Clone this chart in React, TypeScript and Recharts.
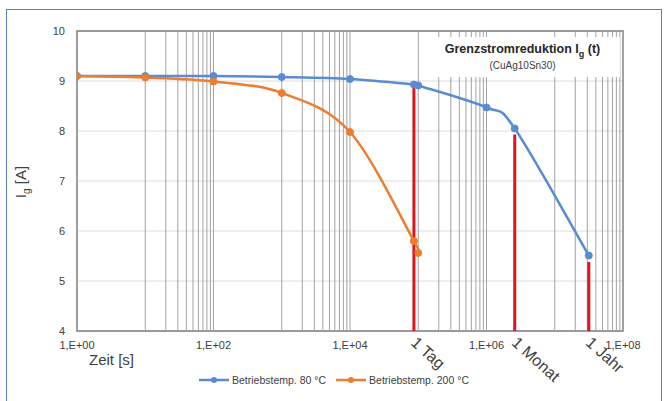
import { CartesianGrid, Line, LineChart, ReferenceArea, ReferenceLine, XAxis, YAxis } from "recharts";

const xTicks = [1, 1e2, 1e4, 1e6, 1e8];
const yTicks = [4, 5, 6, 7, 8, 9, 10];

// Excel only puts the minor grid into every second decade here
const gridDecades = [1e1, 1e3, 1e5, 1e7];
const gridSteps = [1, 2, 3, 4, 5, 6, 7, 8, 9, 10];

const time80 = [1, 10, 100, 1e3, 1e4, 86400, 1e5, 1e6, 2.592e6, 3.1536e7];
const current80 = [9.1, 9.1, 9.1, 9.08, 9.04, 8.93, 8.91, 8.47, 8.05, 5.51];
const time200 = [1, 10, 100, 1e3, 1e4, 86400, 1e5];
const current200 = [9.1, 9.07, 8.99, 8.76, 7.98, 5.8, 5.56];

const markTimes = [86400, 2.592e6, 3.1536e7];
const markTops = [8.9, 7.93, 5.38];
const markNames = ["1 Tag", "1 Monat", "1 Jahr"];

const seriesNames = ["Betriebstemp. 80 °C", "Betriebstemp. 200 °C"];
const BLUE = "#5b8cd2";
const ORANGE = "#ed7d31";
const FONT = "'Liberation Sans', Arial, sans-serif";

const data80 = time80.map((t, i) => ({ t, v: current80[i] }));
const data200 = time200.map((t, i) => ({ t, v: current200[i] }));
const gridXs = gridDecades.flatMap((d) => gridSteps.map((k) => k * d));

const fmtExp = (v: number) => "1,E+" + String(Math.round(Math.log10(v))).padStart(2, "0");

// Excel's "smoothed line": bezier segments with tangents (P[i+1] - P[i-1]) / 6
const excelSmooth = (context: any) => {
  let pts: number[][] = [];
  return {
    areaStart() {},
    areaEnd() {},
    lineStart() {
      pts = [];
    },
    point(x: number, y: number) {
      pts.push([+x, +y]);
    },
    lineEnd() {
      if (!pts.length) return;
      context.moveTo(pts[0][0], pts[0][1]);
      for (let i = 0; i < pts.length - 1; i++) {
        const p0 = pts[Math.max(i - 1, 0)];
        const p1 = pts[i];
        const p2 = pts[i + 1];
        const p3 = pts[Math.min(i + 2, pts.length - 1)];
        context.bezierCurveTo(
          p1[0] + (p2[0] - p0[0]) / 6,
          p1[1] + (p2[1] - p0[1]) / 6,
          p2[0] - (p3[0] - p1[0]) / 6,
          p2[1] - (p3[1] - p1[1]) / 6,
          p2[0],
          p2[1],
        );
      }
    },
  };
};

function RotLabel({ viewBox, text }: any) {
  const x = viewBox.x - 4;
  const y = viewBox.y + viewBox.height + 13;
  return (
    <text x={x} y={y} transform={`rotate(42 ${x} ${y})`} fontSize={16} fill="#404040" fontFamily={FONT}>
      {text}
    </text>
  );
}

function XTitle({ viewBox }: any) {
  return (
    <text x={viewBox.x + 12} y={viewBox.y + 34} fontSize={15} fill="#404040" fontFamily={FONT}>
      Zeit [s]
    </text>
  );
}

function YTitle() {
  return (
    <text transform="rotate(-90 26 182)" x={26} y={182} textAnchor="middle" fontSize={15} fill="#404040" fontFamily={FONT}>
      I<tspan fontSize={10} dy={4}>g</tspan>
      <tspan dy={-4}> [A]</tspan>
    </text>
  );
}

function LegendItem({ color, name }: { color: string; name: string }) {
  return (
    <span style={{ display: "inline-flex", alignItems: "center", margin: "0 5px" }}>
      <svg width={30} height={10}>
        <line x1={0} y1={5} x2={30} y2={5} stroke={color} strokeWidth={2.5} />
        <circle cx={15} cy={5} r={3} fill={color} />
      </svg>
      <span style={{ marginLeft: 3 }}>{name}</span>
    </span>
  );
}

export default function App() {
  return (
    <div style={{ position: "absolute", left: 0, top: 0, width: 668, height: 401, overflow: "hidden", background: "#fff", fontFamily: FONT }}>
      <div style={{ position: "absolute", left: 6, top: 9, width: 654, height: 400, border: "1.5px solid #5b7dbd" }} />
      <LineChart width={668} height={401} margin={{ top: 31, right: 45, bottom: 40, left: 37 }}>
        <CartesianGrid vertical={false} stroke="#dcdcdc" />
        {gridXs.map((x) => (
          <ReferenceLine key={x} x={x} stroke="#a3a3a3" strokeWidth={1} />
        ))}
        <XAxis
          dataKey="t"
          type="number"
          scale="log"
          domain={[1, 1e8]}
          ticks={xTicks}
          tickFormatter={fmtExp}
          allowDataOverflow
          axisLine={false}
          tickLine={false}
          tickSize={0}
          tickMargin={10}
          height={30}
          tick={{ fontSize: 11, fill: "#404040", fontFamily: FONT }}
          label={<XTitle />}
        />
        <YAxis
          type="number"
          domain={[4, 10]}
          ticks={yTicks}
          axisLine={false}
          tickLine={false}
          tickSize={0}
          tickMargin={12}
          width={40}
          tick={{ fontSize: 11, fill: "#404040", fontFamily: FONT }}
          label={<YTitle />}
        />
        <ReferenceArea x1={1} x2={1e8} y1={4} y2={10} fill="none" stroke="#7f7f7f" strokeWidth={1.5} />
        {markTimes.map((t, i) => (
          <ReferenceLine
            key={markNames[i]}
            segment={[{ x: t, y: 4 }, { x: t, y: markTops[i] }]}
            stroke="#e0141e"
            strokeWidth={3}
            label={<RotLabel text={markNames[i]} />}
          />
        ))}
        <Line
          data={data80}
          dataKey="v"
          type={excelSmooth as any}
          stroke={BLUE}
          strokeWidth={2.5}
          dot={{ r: 3.5, fill: BLUE, stroke: BLUE, strokeWidth: 1 }}
          isAnimationActive={false}
          name={seriesNames[0]}
        />
        <Line
          data={data200}
          dataKey="v"
          type={excelSmooth as any}
          stroke={ORANGE}
          strokeWidth={2.5}
          dot={{ r: 3.5, fill: ORANGE, stroke: ORANGE, strokeWidth: 1 }}
          isAnimationActive={false}
          name={seriesNames[1]}
        />
      </LineChart>
      <div style={{ position: "absolute", left: 425, top: 37, width: 195, height: 40, background: "#fff", textAlign: "center", color: "#262626" }}>
        <div style={{ fontSize: 12.5, fontWeight: "bold", marginTop: 5 }}>
          Grenzstromreduktion I<sub style={{ fontSize: 9 }}>g</sub> (t)
        </div>
        <div style={{ fontSize: 10, marginTop: 1, color: "#404040" }}>(CuAg10Sn30)</div>
      </div>
      <div style={{ position: "absolute", left: 0, width: 668, top: 374, textAlign: "center", fontSize: 10.5, color: "#404040" }}>
        <LegendItem color={BLUE} name={seriesNames[0]} />
        <LegendItem color={ORANGE} name={seriesNames[1]} />
      </div>
    </div>
  );
}
